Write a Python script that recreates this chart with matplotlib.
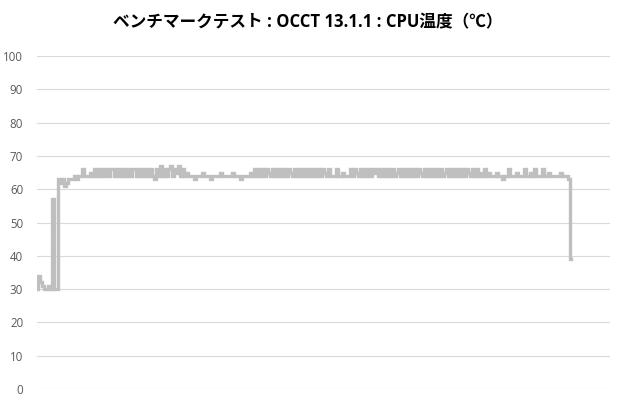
import numpy as np
import matplotlib
matplotlib.use("Agg")
import matplotlib.pyplot as plt

plt.rcParams['font.family'] = ['Open Sans', 'Noto Sans CJK JP', 'DejaVu Sans']

title = "ベンチマークテスト : OCCT 13.1.1 : CPU温度（℃）"

# CPU温度 (one sample every ~2px)
warmup = [30, 34, 32, 31, 30, 30, 31, 30, 57, 30, 30]
ramp = [63, 62, 63, 61, 62, 63, 63, 63, 64, 63]
early = [64, 64, 66, 64, 64, 64, 65, 64, 66, 64]
band1 = [66, 64, 66, 64, 66, 64, 66, 66, 64, 66, 64, 66, 64, 66, 64, 66, 64, 66, 66, 64,
         66, 64, 66]
band2 = [64, 66, 64, 66, 64, 63, 66, 64, 67, 64, 66, 64, 66, 67, 64, 66, 65, 67, 64, 66,
         64, 65, 64, 64, 64]
flat1 = [63, 64, 64, 64, 65, 64, 64, 64, 63, 64, 64, 64, 64, 65, 64, 64, 64, 64, 64, 65,
         64, 64, 64, 63, 64, 64, 64, 64, 65, 64]
band3 = [66, 64, 66, 64, 66, 64, 66, 65, 64, 66, 64, 66, 64, 66, 64, 66, 64, 66, 65, 64,
         66, 64, 66, 64, 66, 64, 66, 64, 66, 64, 66, 64, 66, 64, 66, 65, 64, 66, 64]
gap = [64, 64, 66, 64, 64, 65, 64, 64]
band4 = [64, 66, 64, 66, 65, 64, 66, 64, 66, 64, 66, 64, 66, 65, 66, 64, 66, 64, 66, 64,
         66, 64, 66, 64, 65, 66, 64, 66, 64, 66, 64, 66, 64, 66, 64, 66, 65, 64, 66, 64,
         66, 64, 66, 64, 66, 64, 66, 64, 65, 66, 64, 66, 64, 66, 64, 66, 64, 66, 64, 66,
         65, 64, 66, 64, 66, 64, 65, 64, 66, 64, 65, 64]
flat2 = [64, 64, 65, 64, 64, 63, 64, 64, 66, 64, 64, 64, 65, 64, 64, 64, 66, 64, 64, 65,
         64, 66, 64, 64, 64, 66, 64, 64, 65, 64, 64, 64, 64, 64, 65, 64]
end = [64, 64, 63, 39]

temps = warmup + ramp + early + band1 + band2 + flat1 + band3 + gap + band4 + flat2 + end
n = len(temps)

fig = plt.figure(figsize=(6.2, 4.0), dpi=100)
ax = fig.add_axes([37/620, 11/400, (610-37)/620, (389-56)/400])

ax.plot(np.arange(n), temps, color="#BFBFBF", linewidth=2.4,
        drawstyle="steps-mid", solid_joinstyle="miter")

ax.set_ylim(0, 100)
ax.set_yticks(range(0, 101, 10))
ax.set_xlim(0, (n-1)*573/534)
ax.set_xticks([])
ax.grid(axis="y", color="#D9D9D9", linewidth=0.8)
ax.set_axisbelow(True)
for s in ax.spines.values():
    s.set_visible(False)
ax.tick_params(axis="y", length=0, labelsize=8.3, labelcolor="#595959", pad=10)

fig.text(0.497, 1-22/400, title, ha="center", va="center", fontsize=12, fontweight="bold")

fig.savefig("out.png", dpi=100)
